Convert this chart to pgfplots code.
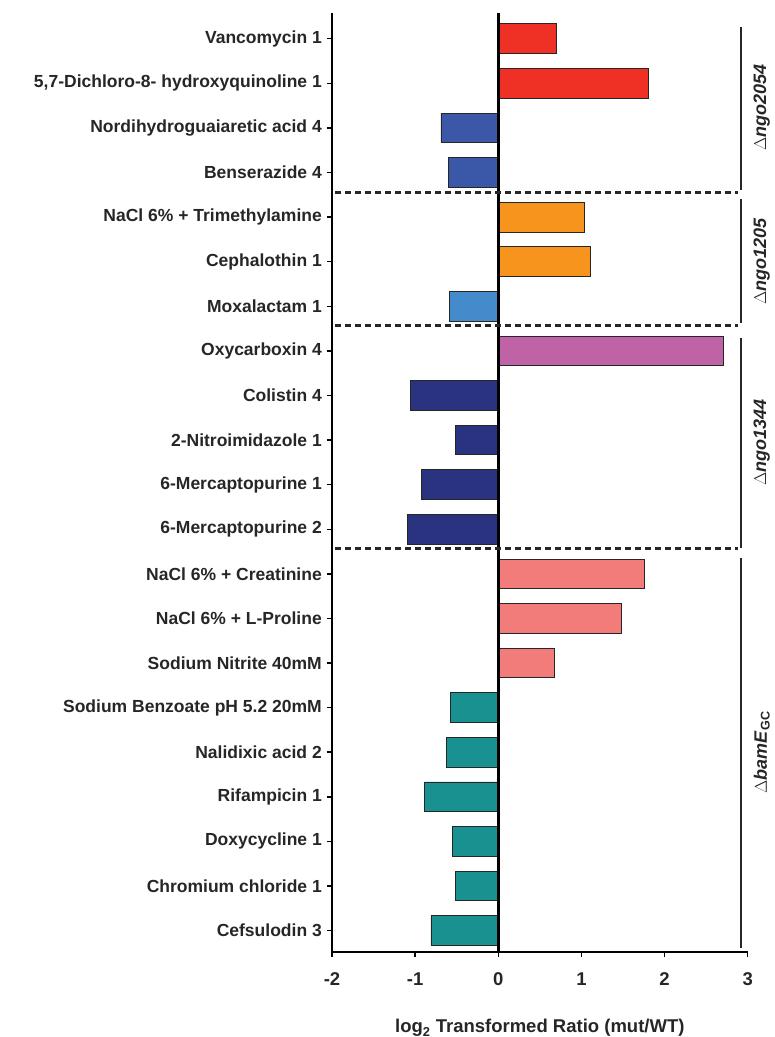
\documentclass[border=0pt]{standalone}
\usepackage{pgfplots}
\pgfplotsset{compat=1.18}
\usepackage{fontspec}
\setmainfont{Liberation Sans}
\definecolor{cRed}{HTML}{EE3124}
\definecolor{cBlue}{HTML}{3A58A7}
\definecolor{cOrange}{HTML}{F7941D}
\definecolor{cLBlue}{HTML}{438BCB}
\definecolor{cMag}{HTML}{C062A6}
\definecolor{cNavy}{HTML}{29337F}
\definecolor{cSalmon}{HTML}{F27C79}
\definecolor{cTeal}{HTML}{1A9191}
\newcommand{\lbl}{\fontsize{17.5bp}{21bp}\selectfont\bfseries}
\newcommand{\xlbl}{\fontsize{18.5bp}{22bp}\selectfont\bfseries}
\begin{document}
\begin{tikzpicture}
\begin{axis}[
  name=ax,
  scale only axis,
  width=415.7bp, height=939.3bp,
  xmin=-2, xmax=3,
  ymin=-0.583, ymax=20.48,
  y dir=reverse,
  axis x line*=bottom,
  axis y line*=left,
  axis line style={line width=2bp},
  xtick={-2,-1,0,1,2,3},
  xticklabels={-2,-1,0,1,2,3},
  ytick={0,...,20},
  yticklabels={Vancomycin 1,{5,7-Dichloro-8- hydroxyquinoline 1},Nordihydroguaiaretic acid 4,Benserazide 4,NaCl 6\% + Trimethylamine,Cephalothin 1,Moxalactam 1,Oxycarboxin 4,Colistin 4,2-Nitroimidazole 1,6-Mercaptopurine 1,6-Mercaptopurine 2,NaCl 6\% + Creatinine,NaCl 6\% + L-Proline,Sodium Nitrite 40mM,Sodium Benzoate pH 5.2 20mM,Nalidixic acid 2,Rifampicin 1,Doxycycline 1,Chromium chloride 1,Cefsulodin 3},
  tick align=outside,
  major tick length=5bp,
  tick style={line width=1.5bp, black},
  yticklabel style={font=\lbl, text=black!85, inner sep=5bp},
  xticklabel style={font=\xlbl, text=black!85, yshift=-12bp},
  xlabel={\xlbl log\textsubscript{2} Transformed Ratio (mut/WT)},
  xlabel style={text=black!85, yshift=-27bp},
  clip=false,
  xbar, bar width=0.665, bar shift=0pt,
  every axis plot/.append style={draw=black!85, line width=0.8bp},
]
\addplot[fill=cRed] coordinates {(0.70,0) (1.81,1)};
\addplot[fill=cBlue] coordinates {(-0.69,2) (-0.60,3)};
\addplot[fill=cOrange] coordinates {(1.04,4) (1.11,5)};
\addplot[fill=cLBlue] coordinates {(-0.586,6)};
\addplot[fill=cMag] coordinates {(2.71,7)};
\addplot[fill=cNavy] coordinates {(-1.06,8) (-0.51,9) (-0.92,10) (-1.09,11)};
\addplot[fill=cSalmon] coordinates {(1.757,12) (1.484,13) (0.678,14)};
\addplot[fill=cTeal] coordinates {(-0.58,15) (-0.62,16) (-0.89,17) (-0.55,18) (-0.52,19) (-0.81,20)};
% zero line
\draw[line width=3.3bp, black] (axis cs:0,-0.583) -- (axis cs:0,20.48);
% dashed separators
\draw[line width=3.2bp, black!85, dash pattern=on 6bp off 4bp] (axis cs:-1.96,3.45) -- (axis cs:2.88,3.45);
\draw[line width=3.2bp, black!85, dash pattern=on 6bp off 4bp] (axis cs:-1.96,6.43) -- (axis cs:2.88,6.43);
\draw[line width=3.2bp, black!85, dash pattern=on 6bp off 4bp] (axis cs:-1.96,11.44) -- (axis cs:2.88,11.44);
% group brackets
\draw[line width=2bp, black!85] (axis cs:2.924,-0.26) -- (axis cs:2.924,3.39);
\draw[line width=2bp, black!85] (axis cs:2.924,3.60) -- (axis cs:2.924,6.38);
\draw[line width=2bp, black!85] (axis cs:2.924,6.71) -- (axis cs:2.924,11.42);
\draw[line width=2bp, black!85] (axis cs:2.924,11.64) -- (axis cs:2.924,20.40);
% group labels
\node[rotate=90, text=black!85, font=\fontsize{18bp}{21bp}\selectfont] at (axis cs:3.17,1.55) {$\Delta$\textbf{\textit{ngo2054}}};
\node[rotate=90, text=black!85, font=\fontsize{18bp}{21bp}\selectfont] at (axis cs:3.17,5.0) {$\Delta$\textbf{\textit{ngo1205}}};
\node[rotate=90, text=black!85, font=\fontsize{18bp}{21bp}\selectfont] at (axis cs:3.17,9.05) {$\Delta$\textbf{\textit{ngo1344}}};
\node[rotate=90, text=black!85, font=\fontsize{18bp}{21bp}\selectfont] at (axis cs:3.17,16.0) {$\Delta$\textbf{\textit{bamE}\textsubscript{GC}}};
\end{axis}
\pgfresetboundingbox
\path (ax.south west) ++(-332bp,-85bp) rectangle ++(775bp,1037bp);
\end{tikzpicture}
\end{document}
